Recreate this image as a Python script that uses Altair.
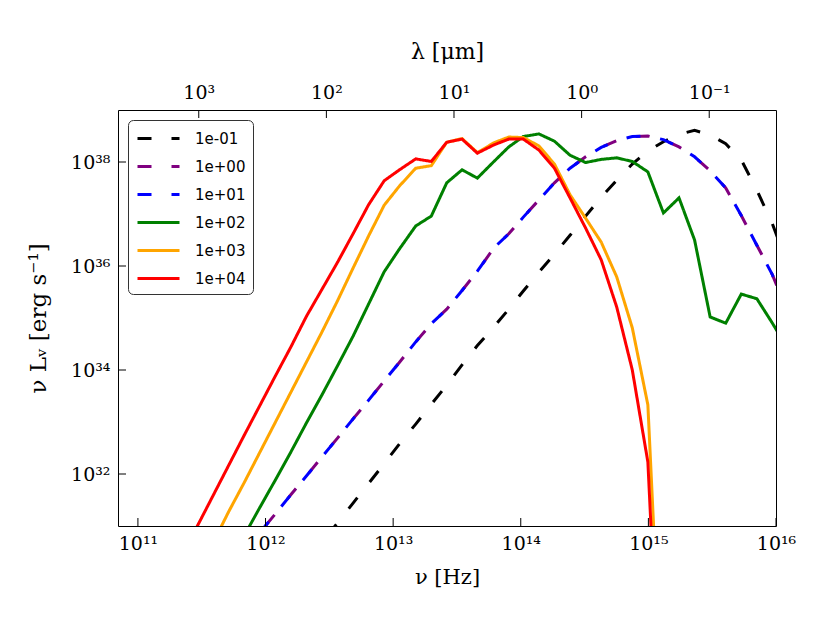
import altair as alt
import pandas as pd

C_UM = 2.998e14  # speed of light in micron/s

SERIES = ["1e-01", "1e+00", "1e+01", "1e+02", "1e+03", "1e+04"]
COLORS = ["black", "purple", "blue", "green", "orange", "red"]
DASHES = [[14, 20], [14, 20], [14, 20], [1, 0], [1, 0], [1, 0]]

# log10(nu / Hz) and log10(nu L_nu / erg s^-1)
BLACK_LOGNU = [12.32, 12.442, 12.564, 12.686, 12.808, 12.93, 13.05, 13.177, 13.299, 13.42,
               13.54, 13.66, 13.79, 13.906, 14.02, 14.142, 14.264, 14.386, 14.508, 14.63,
               14.752, 14.874, 14.996, 15.118, 15.24, 15.362, 15.484, 15.606, 15.728, 15.85,
               15.972, 16.094]
BLACK_LOGL = [30.31, 30.68, 31.06, 31.44, 31.82, 32.2, 32.58, 32.96, 33.34, 33.71,
              34.1, 34.47, 34.83, 35.17, 35.52, 35.88, 36.23, 36.59, 36.96, 37.32,
              37.65, 37.96, 38.21, 38.39, 38.53, 38.61, 38.52, 38.35, 38.04, 37.46,
              36.81, 36.0]

PURPLE_LOGNU = [11.832, 11.954, 12.076, 12.198, 12.32, 12.442, 12.564, 12.686, 12.808, 12.93,
                13.05, 13.177, 13.299, 13.42, 13.54, 13.66, 13.79, 13.906, 14.02, 14.142,
                14.264, 14.386, 14.508, 14.63, 14.752, 14.874, 14.996, 15.118, 15.24, 15.362,
                15.484, 15.606, 15.728, 15.85, 15.972, 16.094]
PURPLE_LOGL = [30.5, 30.87, 31.23, 31.6, 31.96, 32.33, 32.69, 33.06, 33.42, 33.79,
               34.15, 34.54, 34.89, 35.17, 35.53, 35.9, 36.35, 36.62, 36.94, 37.27,
               37.6, 37.88, 38.1, 38.28, 38.41, 38.49, 38.5, 38.43, 38.29, 38.1,
               37.83, 37.5, 36.97, 36.4, 35.83, 35.1]

BLUE_LOGNU = [11.954, 12.076, 12.198, 12.32, 12.442, 12.564, 12.686, 12.808, 12.93,
              13.05, 13.177, 13.299, 13.42, 13.54, 13.66, 13.79, 13.906, 14.02, 14.142,
              14.264, 14.386, 14.508, 14.63, 14.752, 14.874, 14.996, 15.118, 15.24, 15.362,
              15.484, 15.606, 15.728, 15.85, 15.972, 16.094]
BLUE_LOGL = [30.87, 31.23, 31.6, 31.96, 32.33, 32.69, 33.06, 33.42, 33.79,
             34.15, 34.54, 34.89, 35.17, 35.53, 35.9, 36.35, 36.62, 36.94, 37.27,
             37.6, 37.88, 38.1, 38.28, 38.41, 38.49, 38.5, 38.43, 38.29, 38.1,
             37.83, 37.5, 36.97, 36.4, 35.83, 35.1]

GREEN_LOGNU = [11.832, 11.954, 12.076, 12.198, 12.32, 12.442, 12.564, 12.686, 12.808, 12.93,
               13.05, 13.177, 13.299, 13.42, 13.54, 13.66, 13.79, 13.906, 14.02, 14.142,
               14.264, 14.386, 14.508, 14.63, 14.752, 14.874, 14.996, 15.118, 15.24, 15.362,
               15.484, 15.606, 15.728, 15.85, 15.972, 16.094]
GREEN_LOGL = [30.81, 31.35, 31.88, 32.42, 32.98, 33.52, 34.08, 34.65, 35.27, 35.89,
              36.33, 36.77, 36.96, 37.6, 37.85, 37.69, 38.01, 38.29, 38.49, 38.54,
              38.4, 38.13, 37.99, 38.05, 38.08, 38.01, 37.81, 37.02, 37.31, 36.5,
              35.02, 34.9, 35.46, 35.37, 34.9, 34.4]

ORANGE_LOGNU = [11.588, 11.71, 11.832, 11.954, 12.076, 12.198, 12.32, 12.442, 12.564, 12.686,
                12.808, 12.93, 13.05, 13.177, 13.299, 13.42, 13.54, 13.66, 13.79, 13.906,
                14.02, 14.142, 14.264, 14.386, 14.508, 14.63, 14.752, 14.874, 14.996, 15.118]
ORANGE_LOGL = [30.67, 31.27, 31.83, 32.41, 32.99, 33.57, 34.15, 34.73, 35.33, 35.96,
               36.58, 37.17, 37.54, 37.88, 37.93, 38.38, 38.45, 38.18, 38.37, 38.48,
               38.47, 38.31, 37.96, 37.37, 36.92, 36.46, 35.79, 34.81, 33.33, 27.0]

RED_LOGNU = [11.344, 11.466, 11.588, 11.71, 11.832, 11.954, 12.076, 12.198, 12.32, 12.442,
             12.564, 12.686, 12.808, 12.93, 13.05, 13.177, 13.299, 13.42, 13.54, 13.66,
             13.79, 13.906, 14.02, 14.142, 14.264, 14.386, 14.508, 14.63, 14.752, 14.874,
             14.996, 15.118]
RED_LOGL = [30.42, 31.0, 31.58, 32.16, 32.74, 33.31, 33.88, 34.44, 35.03, 35.55,
            36.07, 36.62, 37.18, 37.64, 37.85, 38.06, 38.01, 38.38, 38.44, 38.17,
            38.33, 38.44, 38.44, 38.23, 37.88, 37.31, 36.73, 36.12, 35.21, 34.0,
            32.23, 26.0]

X_TICKS = [1e11, 1e12, 1e13, 1e14, 1e15, 1e16]
Y_TICKS = [1e32, 1e34, 1e36, 1e38]
LAMBDA_TICKS = [1e3, 1e2, 1e1, 1e0, 1e-1]

X_DOMAIN = [10 ** 10.844, 1e16]
Y_DOMAIN = [1e31, 1e39]
W, H = 658, 416

SUP = {"0": "⁰", "1": "¹", "2": "²", "3": "³", "4": "⁴", "5": "⁵",
       "6": "⁶", "7": "⁷", "8": "⁸", "9": "⁹", "-": "⁻"}


def sup(n):
    return "".join(SUP[c] for c in str(n))


def label_expr(exp_expr, exps):
    parts = [f"({exp_expr})=={e}?'10{sup(e)}'" for e in exps]
    return ":".join(parts) + ":''"


series_data = [
    (SERIES[0], BLACK_LOGNU, BLACK_LOGL),
    (SERIES[1], PURPLE_LOGNU, PURPLE_LOGL),
    (SERIES[2], BLUE_LOGNU, BLUE_LOGL),
    (SERIES[3], GREEN_LOGNU, GREEN_LOGL),
    (SERIES[4], ORANGE_LOGNU, ORANGE_LOGL),
    (SERIES[5], RED_LOGNU, RED_LOGL),
]
rows = []
for name, xs, ys in series_data:
    for i, (a, b) in enumerate(zip(xs, ys)):
        rows.append({"series": name, "nu": 10 ** a, "L": 10 ** b, "idx": i})
df = pd.DataFrame(rows)

xscale = alt.Scale(type="log", domain=X_DOMAIN, nice=False)
yscale = alt.Scale(type="log", domain=Y_DOMAIN, nice=False)

x_exps = [11, 12, 13, 14, 15, 16]
y_exps = [32, 34, 36, 38]
lam_exps = [3, 2, 1, 0, -1]
x_lab = label_expr("round(log(datum.value)/LN10)", x_exps)
y_lab = label_expr("round(log(datum.value)/LN10)", y_exps)
lam_lab = label_expr(f"round(log({C_UM}/datum.value)/LN10)", lam_exps)

legend = alt.Legend(
    orient="top-left", offset=10, fillColor="white", strokeColor="#333",
    cornerRadius=5, padding=7, symbolType="M-0.9,0H3.3", symbolSize=400,
    symbolStrokeWidth=3, labelFont="DejaVu Sans", labelFontSize=15,
    labelColor="black", labelOffset=37, rowPadding=8,
)

lines = alt.Chart(df).mark_line(clip=True, strokeWidth=3).encode(
    x=alt.X("nu:Q", scale=xscale,
            axis=alt.Axis(orient="bottom", values=X_TICKS, labelExpr=x_lab,
                          labelOverlap=False, labelFlush=False, labelPadding=8,
                          title="ν [Hz]", titlePadding=13)),
    y=alt.Y("L:Q", scale=yscale,
            axis=alt.Axis(values=Y_TICKS, labelExpr=y_lab, labelOverlap=False,
                          labelPadding=8, title="ν Lᵥ [erg s⁻¹]", titlePadding=20,
                          titleFontSize=23)),
    color=alt.Color("series:N", scale=alt.Scale(domain=SERIES, range=COLORS),
                    legend=legend, title=None),
    strokeDash=alt.StrokeDash("series:N", scale=alt.Scale(domain=SERIES, range=DASHES),
                              legend=legend, title=None),
    order="idx:Q",
)

bottom_ticks = alt.Chart(pd.DataFrame({"nu": X_TICKS})).mark_rule(
    color="black", strokeWidth=1).encode(
    x=alt.X("nu:Q", scale=xscale, axis=None),
    y=alt.value(H), y2=alt.value(H - 8),
)

top_nu = [C_UM / lam for lam in LAMBDA_TICKS]
top_ticks = alt.Chart(pd.DataFrame({"nu": top_nu})).mark_rule(
    color="black", strokeWidth=1).encode(
    x=alt.X("nu:Q", scale=xscale,
            axis=alt.Axis(orient="top", values=top_nu, labelExpr=lam_lab,
                          labelOverlap=False, labelFlush=False, labelPadding=8,
                          title="λ [μm]", titlePadding=20, titleFontSize=22)),
    y=alt.value(0), y2=alt.value(8),
)

left_ticks = alt.Chart(pd.DataFrame({"L": Y_TICKS})).mark_rule(
    color="black", strokeWidth=1).encode(
    y=alt.Y("L:Q", scale=yscale, axis=None),
    x=alt.value(0), x2=alt.value(8),
)

chart = alt.layer(lines, bottom_ticks, top_ticks, left_ticks).resolve_axis(
    x="independent", y="independent"
).properties(
    width=W, height=H,
    autosize=alt.AutoSizeParams(type="none"),
    padding={"left": 110, "top": 102, "right": 46, "bottom": 89},
).configure_view(
    stroke="black", strokeWidth=1
).configure_axis(
    grid=False, domain=False, ticks=False,
    labelFont="DejaVu Serif", labelFontSize=19, labelColor="black",
    titleFont="DejaVu Serif", titleFontSize=21, titleFontWeight="normal",
    titleColor="black",
)

chart.save("out.html", embed_options={"renderer": "svg", "actions": False})
